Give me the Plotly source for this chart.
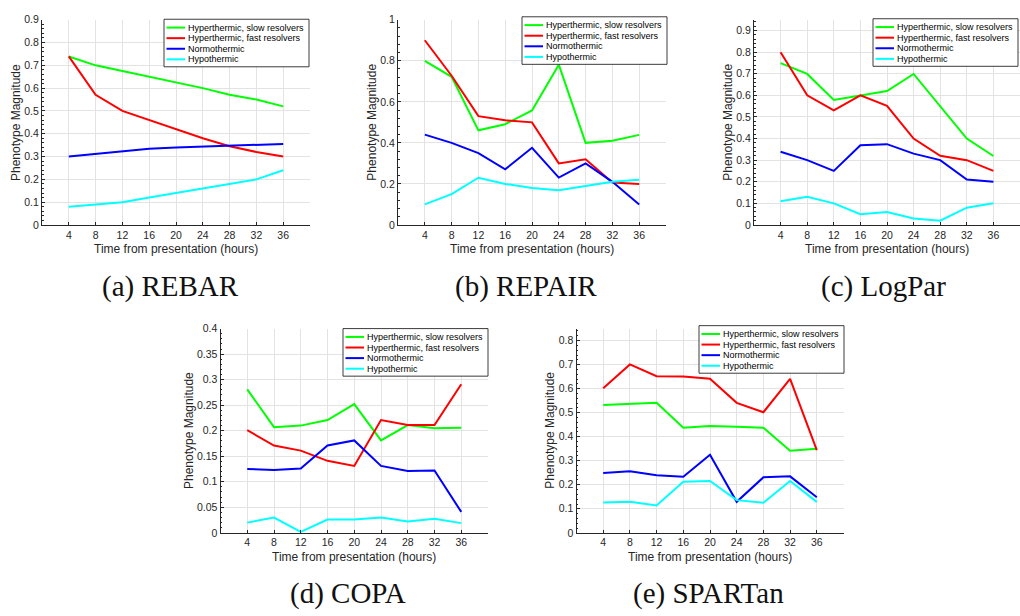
import plotly.graph_objects as go

W, H = 1020, 616

# ---------------- data ----------------
hours = [4, 8, 12, 16, 20, 24, 28, 32, 36]
series_names = ["Hyperthermic, slow resolvers", "Hyperthermic, fast resolvers",
                "Normothermic", "Hypothermic"]
series_colors = ["#00ff00", "#ff0000", "#0000ff", "#00ffff"]

panel_titles = ["(a) REBAR", "(b) REPAIR", "(c) LogPar", "(d) COPA", "(e) SPARTan"]

rebar_slow = [0.739, 0.700, 0.675, 0.650, 0.627, 0.600, 0.571, 0.550, 0.520]
rebar_fast = [0.739, 0.571, 0.500, 0.461, 0.419, 0.380, 0.345, 0.320, 0.300]
rebar_normo = [0.300, 0.311, 0.320, 0.334, 0.340, 0.344, 0.349, 0.353, 0.355]
rebar_hypo = [0.080, 0.090, 0.100, 0.120, 0.140, 0.160, 0.180, 0.200, 0.240]

repair_slow = [0.800, 0.722, 0.461, 0.491, 0.558, 0.781, 0.400, 0.410, 0.439]
repair_fast = [0.900, 0.727, 0.530, 0.510, 0.500, 0.300, 0.320, 0.207, 0.200]
repair_normo = [0.440, 0.400, 0.350, 0.271, 0.376, 0.231, 0.300, 0.210, 0.100]
repair_hypo = [0.100, 0.150, 0.230, 0.200, 0.180, 0.169, 0.190, 0.210, 0.220]

logpar_slow = [0.749, 0.699, 0.579, 0.600, 0.620, 0.699, 0.548, 0.400, 0.319]
logpar_fast = [0.799, 0.600, 0.530, 0.600, 0.551, 0.400, 0.320, 0.300, 0.250]
logpar_normo = [0.339, 0.300, 0.250, 0.369, 0.374, 0.330, 0.300, 0.210, 0.200]
logpar_hypo = [0.110, 0.130, 0.100, 0.050, 0.060, 0.030, 0.020, 0.080, 0.100]

copa_slow = [0.281, 0.207, 0.210, 0.221, 0.252, 0.181, 0.211, 0.205, 0.206]
copa_fast = [0.201, 0.171, 0.161, 0.141, 0.131, 0.221, 0.211, 0.211, 0.291]
copa_normo = [0.125, 0.123, 0.126, 0.171, 0.181, 0.131, 0.121, 0.122, 0.041]
copa_hypo = [0.020, 0.030, 0.002, 0.026, 0.026, 0.030, 0.022, 0.0275, 0.019]

spartan_slow = [0.532, 0.536, 0.541, 0.437, 0.445, 0.441, 0.437, 0.342, 0.350]
spartan_fast = [0.602, 0.701, 0.652, 0.651, 0.641, 0.541, 0.502, 0.641, 0.344]
spartan_normo = [0.249, 0.256, 0.240, 0.233, 0.325, 0.129, 0.231, 0.235, 0.148]
spartan_hypo = [0.126, 0.129, 0.114, 0.213, 0.216, 0.136, 0.125, 0.216, 0.129]

panel_data = [
    [rebar_slow, rebar_fast, rebar_normo, rebar_hypo],
    [repair_slow, repair_fast, repair_normo, repair_hypo],
    [logpar_slow, logpar_fast, logpar_normo, logpar_hypo],
    [copa_slow, copa_fast, copa_normo, copa_hypo],
    [spartan_slow, spartan_fast, spartan_normo, spartan_hypo],
]

y_ranges = [[0, 0.9], [0, 1.0], [0, 0.95], [0, 0.4], [0, 0.85]]
y_dticks = [0.1, 0.2, 0.1, 0.05, 0.1]
y_tickmax = [0.9, 1.0, 0.9, 0.4, 0.8]

x_title = "Time from presentation (hours)"
y_title = "Phenotype Magnitude"

# ---------------- layout (pixels) ----------------
# (left, right, top, bottom) of each axes box
boxes = [
    (42, 310, 14, 223.3),
    (398, 666, 14, 223.3),
    (754, 1020, 14, 223.3),
    (220.5, 488, 329, 537.3),
    (576.5, 843.5, 329, 537.3),
]
legend_right = [309, 667, 1018, 488, 844]
legend_top = [13.5, 11, 13, 329, 326]
ytitle_x = [16.7, 372.3, 728.3, 188.3, 550.0]
caption_pos = [(170, 286), (526, 286), (883, 286), (348, 599), (708, 599)]


def px(x):
    return x / W


def py(y):
    return 1 - y / H


AX = "#262626"
GRID = "#e3e3e3"
SANS = "Liberation Sans, Arial, sans-serif"
TICKFONT = dict(family=SANS, size=10.5, color=AX)

fig = go.Figure()
shapes = []
annotations = []

for i in range(5):
    n = "" if i == 0 else str(i + 1)
    xa, ya = "x" + n, "y" + n
    for name, col, vals in zip(series_names, series_colors, panel_data[i]):
        fig.add_trace(go.Scatter(x=hours, y=vals, mode="lines", name=name,
                                 line=dict(color=col, width=2), showlegend=False,
                                 xaxis=xa, yaxis=ya))
    L, R, T, B = boxes[i]
    dt = y_dticks[i]
    nt = int(round(y_tickmax[i] / dt))
    tv = [round(k * dt, 4) for k in range(nt + 1)]
    fig.layout["xaxis" + n] = dict(
        domain=[px(L), px(R)], anchor=ya, range=[0, 40],
        tickvals=hours, ticks="inside", ticklen=3, tickcolor=AX,
        showgrid=True, gridcolor=GRID, gridwidth=1,
        showline=True, linecolor=AX, linewidth=1, zeroline=False,
        tickfont=TICKFONT, fixedrange=True)
    fig.layout["yaxis" + n] = dict(
        domain=[py(B), py(T)], anchor=xa, range=y_ranges[i],
        tickvals=tv, ticks="inside", ticklen=3, tickcolor=AX,
        minor=dict(ticks="inside", ticklen=1.8, tickcolor=AX, dtick=dt / 5,
                   showgrid=False),
        showgrid=True, gridcolor=GRID, gridwidth=1,
        showline=True, linecolor=AX, linewidth=1, zeroline=False,
        tickfont=TICKFONT, fixedrange=True)

    # axis titles
    annotations.append(dict(text=x_title, x=px((L + R) / 2), y=py(B + 24.4),
                            xref="paper", yref="paper", showarrow=False,
                            xanchor="center", yanchor="middle",
                            font=dict(family=SANS, size=12, color=AX)))
    annotations.append(dict(text=y_title, x=px(ytitle_x[i]), y=py((T + B) / 2),
                            xref="paper", yref="paper", showarrow=False,
                            textangle=-90, xanchor="center", yanchor="middle",
                            font=dict(family=SANS, size=12, color=AX)))
    # caption
    cx, cy = caption_pos[i]
    annotations.append(dict(text=panel_titles[i], x=px(cx), y=py(cy),
                            xref="paper", yref="paper", showarrow=False,
                            xanchor="center", yanchor="middle",
                            font=dict(family="Liberation Serif, Times New Roman, serif",
                                      size=29, color="#111111")))

    # legend box
    lx1 = legend_right[i]
    lx0 = lx1 - 145
    ly0 = legend_top[i]
    ly1 = ly0 + 48.5
    shapes.append(dict(type="rect", xref="paper", yref="paper",
                       x0=px(lx0), x1=px(min(lx1, W - 0.5)), y0=py(ly1), y1=py(ly0),
                       line=dict(color=AX, width=0.9), fillcolor="white",
                       layer="above"))
    for k, (name, col) in enumerate(zip(series_names, series_colors)):
        yy = ly0 + 8.5 + 10.8 * k
        shapes.append(dict(type="line", xref="paper", yref="paper",
                           x0=px(lx0 + 2.5), x1=px(lx0 + 21), y0=py(yy), y1=py(yy),
                           line=dict(color=col, width=2), layer="above"))
        annotations.append(dict(text=name, x=px(lx0 + 22), y=py(yy),
                                xref="paper", yref="paper", showarrow=False,
                                xanchor="left", yanchor="middle",
                                font=dict(family=SANS, size=9, color="#000000")))

fig.update_layout(width=W, height=H, margin=dict(l=0, r=0, t=0, b=0),
                  paper_bgcolor="white", plot_bgcolor="white",
                  shapes=shapes, annotations=annotations, showlegend=False)

fig.write_html("out.html", config={"displayModeBar": False},
               post_script="document.body.style.margin='0';"
                           "document.body.style.overflow='hidden';")
